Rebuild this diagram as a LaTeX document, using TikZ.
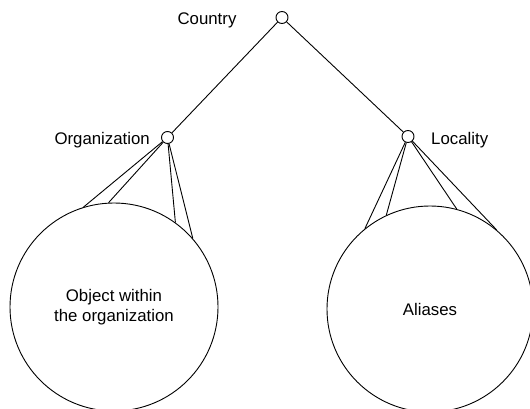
\documentclass[tikz,border=0pt]{standalone}
\usepackage{fontspec}
\setmainfont{Liberation Sans}
\begin{document}
\begin{tikzpicture}[x=1pt,y=-1pt,
  joint/.style={circle, draw, fill=white, minimum size=12pt, inner sep=0pt, line width=0.9pt},
  setnode/.style={circle, draw, inner sep=0pt, line width=0.9pt, align=center,
    font=\fontsize{16.8}{20}\selectfont},
  lbl/.style={font=\fontsize{16.8}{20}\selectfont, inner sep=0pt},
  link/.style={line width=0.9pt}]
\useasboundingbox (0,0) rectangle (530,409);

% the two sets
\node[setnode, minimum size=208pt] (obj) at (114,307) {Object within\\the organization};
\node[setnode, minimum size=206pt] (ali) at (430,309) {Aliases};

% tree joints
\node[joint] (country) at (282,17.5) {};
\node[joint] (org) at (167.5,137.5) {};
\node[joint] (loc) at (408,136.5) {};

% joint labels
\node[lbl, anchor=base] (tcountry) at (207,25) {Country};
\node[lbl, anchor=base east] (torg) at (150,145) {Organization};
\node[lbl, anchor=base west] (tloc) at (431,145) {Locality};

% tree edges
\draw[link] (country) -- (org);
\draw[link] (country) -- (loc);

% fans into the sets
\foreach \a in {107.4,93.7,54.3,41.9} \draw[link] (org) -- (obj.\a);
\foreach \a in {129.8,115.8,75.2,50.5} \draw[link] (loc) -- (ali.\a);
\end{tikzpicture}
\end{document}
